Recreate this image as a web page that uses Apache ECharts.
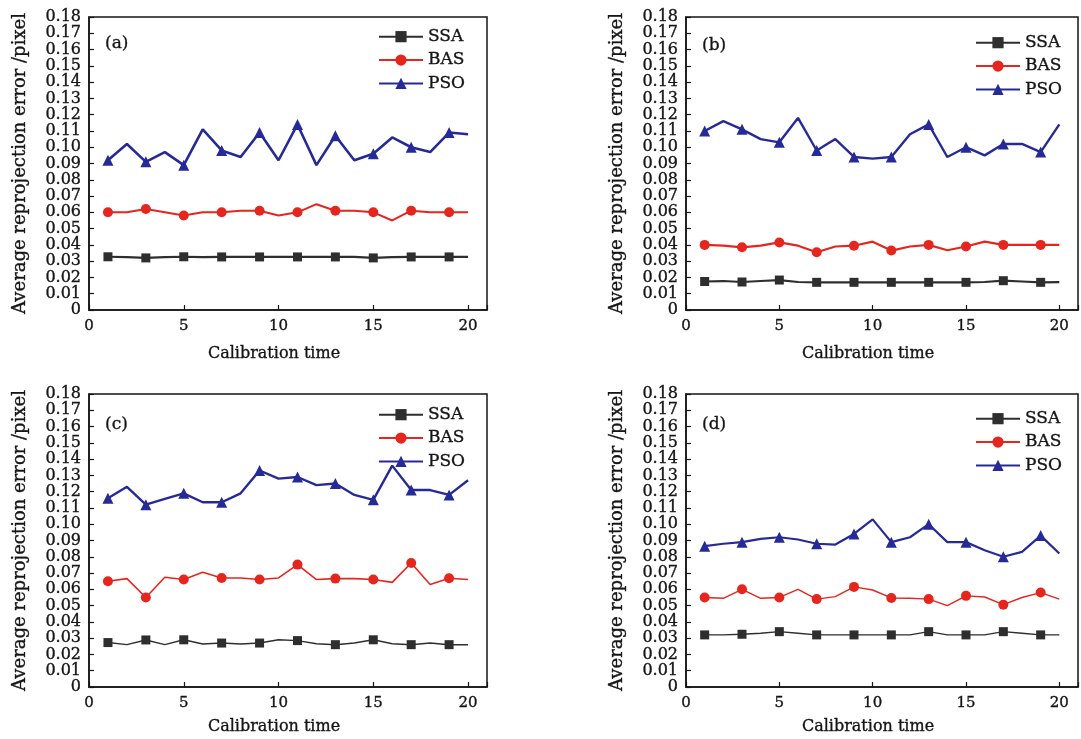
<!DOCTYPE html>
<html>
<head>
<meta charset="utf-8">
<script src="https://cdn.jsdelivr.net/npm/echarts@6/dist/echarts.min.js"></script>
<style>
html,body{margin:0;padding:0;background:#fff;}
#chart{width:1081px;height:739px;}
</style>
</head>
<body>
<div id="chart"></div>
<script>
// ---------- data ----------
const xValues = [1,2,3,4,5,6,7,8,9,10,11,12,13,14,15,16,17,18,19,20];
const seriesNames = ['SSA','BAS','PSO'];
const panelLabels = ['(a)','(b)','(c)','(d)'];
const yTickLabels = ['0','0.01','0.02','0.03','0.04','0.05','0.06','0.07','0.08','0.09','0.10','0.11','0.12','0.13','0.14','0.15','0.16','0.17','0.18'];
const xTickLabels = ['0','5','10','15','20'];

const A_SSA = [0.0327,0.0325,0.0320,0.0325,0.0327,0.0325,0.0326,0.0326,0.0326,0.0326,0.0326,0.0326,0.0326,0.0326,0.0320,0.0325,0.0326,0.0326,0.0326,0.0326];
const A_BAS = [0.060,0.060,0.062,0.060,0.058,0.060,0.060,0.061,0.061,0.058,0.060,0.065,0.061,0.061,0.060,0.055,0.061,0.060,0.060,0.060];
const A_PSO = [0.092,0.102,0.091,0.097,0.089,0.111,0.098,0.094,0.109,0.092,0.114,0.089,0.107,0.092,0.096,0.106,0.100,0.097,0.109,0.108];

const B_SSA = [0.0175,0.0178,0.0172,0.0178,0.0184,0.0172,0.0170,0.0170,0.0170,0.0170,0.0170,0.0170,0.0170,0.0170,0.0170,0.0172,0.0180,0.0175,0.0170,0.0171];
const B_BAS = [0.040,0.0395,0.0385,0.0395,0.0415,0.0395,0.0355,0.039,0.0395,0.042,0.0365,0.039,0.040,0.0367,0.039,0.042,0.040,0.040,0.040,0.040];
const B_PSO = [0.110,0.116,0.111,0.105,0.103,0.118,0.098,0.105,0.094,0.093,0.094,0.108,0.114,0.094,0.100,0.095,0.102,0.102,0.097,0.114];

const C_SSA = [0.0273,0.026,0.0289,0.026,0.029,0.0264,0.027,0.0264,0.027,0.029,0.0285,0.0266,0.026,0.027,0.029,0.0266,0.026,0.027,0.026,0.026];
const C_BAS = [0.065,0.0666,0.055,0.0674,0.066,0.0705,0.067,0.067,0.066,0.067,0.0752,0.066,0.0666,0.0666,0.066,0.0643,0.0762,0.063,0.0668,0.066];
const C_PSO = [0.116,0.123,0.112,0.1156,0.119,0.1135,0.1135,0.119,0.133,0.128,0.129,0.124,0.125,0.118,0.115,0.136,0.121,0.121,0.118,0.127];

const D_SSA = [0.032,0.032,0.0324,0.033,0.034,0.033,0.032,0.032,0.032,0.032,0.032,0.032,0.034,0.032,0.032,0.032,0.034,0.033,0.032,0.032];
const D_BAS = [0.055,0.0545,0.060,0.0545,0.055,0.060,0.054,0.0555,0.0615,0.0596,0.0547,0.0545,0.054,0.050,0.056,0.0553,0.0506,0.055,0.058,0.054];
const D_PSO = [0.0865,0.088,0.089,0.091,0.092,0.0906,0.088,0.0875,0.094,0.103,0.089,0.092,0.100,0.089,0.089,0.084,0.080,0.083,0.093,0.082];

const panelData = [
  [A_SSA, A_BAS, A_PSO],
  [B_SSA, B_BAS, B_PSO],
  [C_SSA, C_BAS, C_PSO],
  [D_SSA, D_BAS, D_PSO]
];

// ---------- layout / style ----------
const FONT = 'DejaVu Serif';
const INK = '#151515';
const HEAVY = {textBorderColor: INK, textBorderWidth: 0.35};
const layout = [
  {left: 89,  top: 17,  nameGap: 36, legendTop: 28, labelTop: 35},
  {left: 686, top: 17,  nameGap: 36, legendTop: 34, labelTop: 37},
  {left: 89,  top: 394, nameGap: 32, legendTop: 406, labelTop: 416},
  {left: 686, top: 394, nameGap: 32, legendTop: 410, labelTop: 416}
];
const W = 398, H = 293;
const styles = [
  {color: '#2e2e2e', symbol: 'rect', size: 9, widths: [2.2, 2.2, 1.4, 1.4]},
  {color: '#e5261e', symbol: 'circle', size: 10, widths: [2.0, 2.2, 1.6, 1.4]},
  {color: '#262a96', symbol: 'triangle', size: 11, widths: [2.6, 2.4, 2.4, 2.2]}
];

const grids = [], xAxes = [], yAxes = [], series = [], legends = [], titles = [];
layout.forEach((L, p) => {
  grids.push({left: L.left, top: L.top, width: W, height: H, show: true,
    borderColor: INK, borderWidth: 1.5, backgroundColor: 'transparent', containLabel: false});
  xAxes.push({
    type: 'value', gridIndex: p, min: 0, max: 21, interval: 5,
    name: 'Calibration time', nameLocation: 'middle', nameGap: L.nameGap,
    nameTextStyle: Object.assign({fontFamily: FONT, fontSize: 16, color: INK, padding: [0, 28, 0, 0]}, HEAVY),
    axisLine: {show: true, lineStyle: {color: INK, width: 1.5}},
    axisTick: {show: true, inside: true, length: 5, lineStyle: {color: INK, width: 1.2}},
    axisLabel: Object.assign({fontFamily: FONT, fontSize: 15, color: INK, margin: 9,
      formatter: v => { const i = xTickLabels.indexOf(String(v)); return i >= 0 ? xTickLabels[i] : ''; }}, HEAVY),
    splitLine: {show: false}
  });
  yAxes.push({
    type: 'value', gridIndex: p, min: 0, max: 0.18, interval: 0.01,
    name: 'Average reprojection error /pixel', nameLocation: 'middle', nameGap: 60,
    nameTextStyle: Object.assign({fontFamily: FONT, fontSize: 18, color: INK}, HEAVY),
    axisLine: {show: true, lineStyle: {color: INK, width: 1.5}},
    axisTick: {show: true, inside: true, length: 5, lineStyle: {color: INK, width: 1.2}},
    axisLabel: Object.assign({fontFamily: FONT, fontSize: 16, lineHeight: 16, color: INK, margin: 8,
      formatter: v => yTickLabels[Math.round(v * 100)] || ''}, HEAVY),
    splitLine: {show: false}
  });
  panelData[p].forEach((arr, s) => {
    const st = styles[s];
    series.push({
      type: 'line', name: seriesNames[s], xAxisIndex: p, yAxisIndex: p,
      symbol: st.symbol, symbolSize: st.size, showAllSymbol: true,
      lineStyle: {color: st.color, width: st.widths[p]},
      itemStyle: {color: st.color},
      data: xValues.map((x, k) => k % 2 === 0 ? {value: [x, arr[k]]} : {value: [x, arr[k]], symbol: 'none'}),
      z: 3 + s
    });
  });
  legends.push({
    orient: 'vertical', left: L.left + 289, top: L.legendTop, padding: 0,
    data: seriesNames, itemWidth: 44, itemHeight: 14, itemGap: 6,
    textStyle: Object.assign({fontFamily: FONT, fontSize: 17, color: INK}, HEAVY),
    selectedMode: false
  });
  titles.push({text: panelLabels[p], left: L.left + 16, top: L.labelTop,
    textStyle: Object.assign({fontFamily: FONT, fontSize: 17, fontWeight: 'normal', color: INK}, HEAVY), padding: 0});
});

const chart = echarts.init(document.getElementById('chart'), null, {renderer: 'canvas'});
chart.setOption({
  animation: false,
  backgroundColor: '#fff',
  title: titles,
  grid: grids,
  xAxis: xAxes,
  yAxis: yAxes,
  legend: legends,
  series: series
});
</script>
</body>
</html>
